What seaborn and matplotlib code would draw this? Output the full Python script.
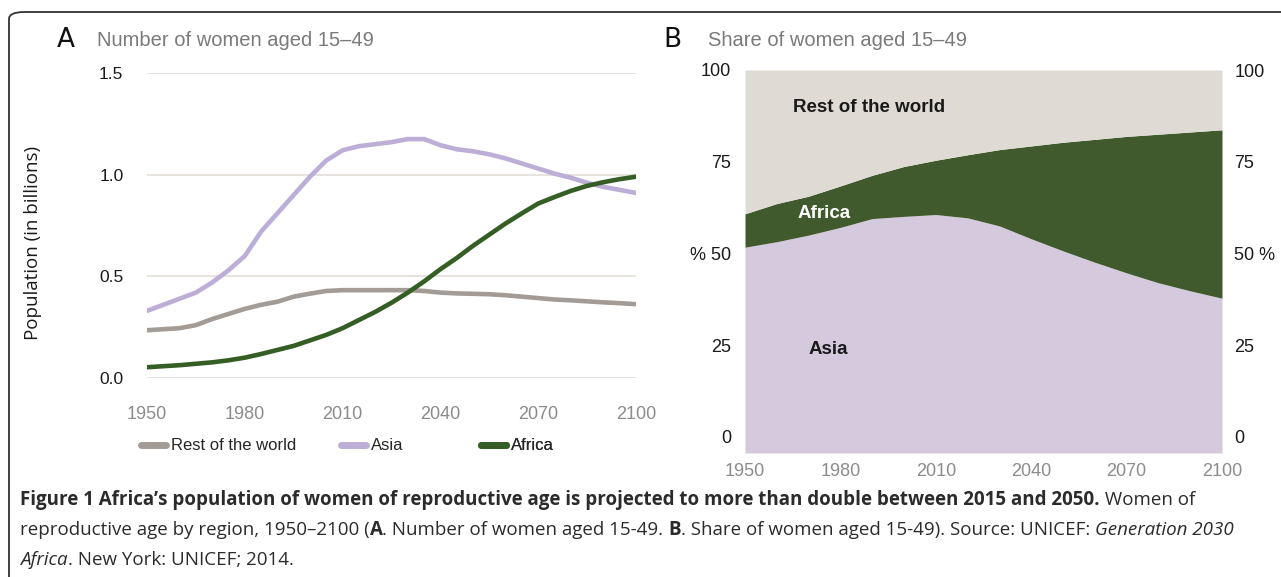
import pandas as pd
import matplotlib.pyplot as plt
import seaborn as sns
from matplotlib.patches import FancyBboxPatch
from matplotlib.lines import Line2D

# ---- data ----
years = list(range(1950, 2101, 5))
asia = [0.33, 0.36, 0.39, 0.42, 0.47, 0.53, 0.60, 0.72, 0.81, 0.90, 0.99, 1.07,
        1.12, 1.14, 1.15, 1.16, 1.175, 1.175, 1.145, 1.125, 1.115, 1.10, 1.08,
        1.055, 1.03, 1.005, 0.985, 0.96, 0.94, 0.925, 0.91]
rest = [0.235, 0.24, 0.245, 0.26, 0.29, 0.315, 0.34, 0.36, 0.375, 0.40, 0.415,
        0.428, 0.432, 0.432, 0.432, 0.432, 0.432, 0.428, 0.42, 0.416, 0.414,
        0.412, 0.407, 0.40, 0.393, 0.386, 0.382, 0.377, 0.372, 0.368, 0.363]
africa = [0.053, 0.058, 0.063, 0.07, 0.077, 0.087, 0.10, 0.118, 0.138, 0.158,
          0.185, 0.212, 0.245, 0.285, 0.325, 0.37, 0.42, 0.475, 0.535, 0.59,
          0.65, 0.705, 0.76, 0.81, 0.858, 0.89, 0.92, 0.945, 0.963, 0.978, 0.99]

share_years = list(range(1950, 2101, 10))
asia_share = [51.7, 53.2, 55.0, 57.1, 59.5, 60.1, 60.6, 59.7, 57.5, 54.0, 50.7,
              47.6, 44.7, 42.0, 39.8, 37.8]
africa_share = [9.1, 10.4, 10.6, 11.3, 11.8, 13.6, 14.8, 17.2, 20.8, 25.3, 29.6,
                33.5, 37.2, 40.5, 43.3, 45.9]
rest_share = [100 - a - b for a, b in zip(asia_share, africa_share)]

regions = ["Rest of the world", "Asia", "Africa"]
line_colors = {"Rest of the world": "#a39b96", "Asia": "#bcaed6", "Africa": "#355e25"}
fill_colors = {"Asia": "#d5c9dd", "Africa": "#405a2e", "Rest of the world": "#e0dad4"}

# ---- style ----
sns.set_style("white")
chart_font = ["Liberation Sans", "DejaVu Sans"]
plt.rcParams["font.family"] = chart_font

W, H = 1281, 577
fig = plt.figure(figsize=(W / 100, H / 100), dpi=100)


def fx(px):
    return px / W


def fy(py):
    return 1 - py / H


# outer rounded frame (open to the right and bottom)
frame = FancyBboxPatch((fx(9), fy(700)), fx(1300), fy(12) - fy(700),
                       boxstyle="round,pad=0,rounding_size=0.012",
                       transform=fig.transFigure, fill=False,
                       edgecolor="#333333", linewidth=1.3)
fig.patches.append(frame)

# ---- panel A ----
df = pd.DataFrame({
    "year": years * 3,
    "value": rest + asia + africa,
    "region": ["Rest of the world"] * len(years) + ["Asia"] * len(years)
              + ["Africa"] * len(years),
})
axA = fig.add_axes([fx(147), fy(378), fx(636) - fx(147), fy(73) - fy(378)])
sns.lineplot(data=df, x="year", y="value", hue="region", hue_order=regions,
             palette=line_colors, linewidth=3.3, ax=axA, legend=False)
axA.set_xlim(1950, 2100)
axA.set_ylim(0, 1.5)
axA.set_yticks([0, 0.5, 1.0, 1.5])
axA.set_yticklabels(["0.0", "0.5", "1.0", "1.5"])
axA.set_xticks(range(1950, 2101, 30))
axA.yaxis.grid(True, color="#e3ded9", linewidth=1.2)
axA.set_axisbelow(True)
for s in axA.spines.values():
    s.set_visible(False)
axA.tick_params(axis="y", labelsize=12.5, labelcolor="#1a1a1a", length=0, pad=17)
axA.tick_params(axis="x", labelsize=13, labelcolor="#8c8c8c", length=0, pad=20)
axA.set_xlabel("")
axA.set_ylabel("Population (in billions)", fontsize=13.5,
               family=["Open Sans", "DejaVu Sans"], color="#1a1a1a")
axA.yaxis.set_label_coords(fx(42), fy(243), transform=fig.transFigure)

# legend entries placed one by one below panel A
legend_x = [141, 341, 481]
for r, lx in zip(regions, legend_x):
    h = Line2D([], [], color=line_colors[r], linewidth=5, solid_capstyle="round")
    lg = axA.legend([h], [r], loc="center left", bbox_to_anchor=(fx(lx), fy(446)),
                    bbox_transform=fig.transFigure, frameon=False, fontsize=12,
                    handlelength=1.5, handletextpad=0.3, borderpad=0, borderaxespad=0)
    axA.add_artist(lg)

fig.text(fx(57), fy(40), "A", fontsize=19, family="DejaVu Sans", color="#111111",
         va="center")
fig.text(fx(97), fy(40), "Number of women aged 15–49", fontsize=14.5,
         color="#7a7a7a", va="center")

# ---- panel B ----
y_bottom = -4.4
axB = fig.add_axes([fx(745), fy(453), fx(1222) - fx(745), fy(70) - fy(453)])
top_share = [a + b for a, b in zip(asia_share, africa_share)]
axB.fill_between(share_years, y_bottom, asia_share, color=fill_colors["Asia"],
                 linewidth=0)
axB.fill_between(share_years, asia_share, top_share, color=fill_colors["Africa"],
                 linewidth=0)
axB.fill_between(share_years, top_share, [t + r for t, r in zip(top_share, rest_share)],
                 color=fill_colors["Rest of the world"], linewidth=0)
axB.set_xlim(1950, 2100)
axB.set_ylim(y_bottom, 100)
axB.set_xticks(range(1950, 2101, 30))
axB.set_yticks([0, 25, 50, 75, 100])
axB.set_yticklabels(["0", "25", "% 50", "75", "100"])
for s in axB.spines.values():
    s.set_visible(False)
axB.tick_params(axis="y", labelsize=13, labelcolor="#1a1a1a", length=0, pad=10)
axB.tick_params(axis="x", labelsize=13, labelcolor="#8c8c8c", length=0, pad=7)
axB2 = axB.twinx()
axB2.set_ylim(y_bottom, 100)
axB2.set_yticks([0, 25, 50, 75, 100])
axB2.set_yticklabels(["0", "25", "50 %", "75", "100"])
for s in axB2.spines.values():
    s.set_visible(False)
axB2.tick_params(axis="y", labelsize=13, labelcolor="#1a1a1a", length=0, pad=9)

axB.text(1965, 89.8, "Rest of the world", fontsize=13.5, fontweight="bold",
         color="#1a1a1a", va="center")
axB.text(1966.5, 61, "Africa", fontsize=13.5, fontweight="bold", color="white",
         va="center")
axB.text(1970, 23.9, "Asia", fontsize=13.5, fontweight="bold", color="#1a1a1a",
         va="center")

fig.text(fx(663), fy(40), "B", fontsize=19, family="DejaVu Sans", color="#111111",
         va="center")
fig.text(fx(708), fy(40), "Share of women aged 15–49", fontsize=14.5,
         color="#7a7a7a", va="center")

# ---- caption ----
renderer = fig.canvas.get_renderer()


def caption_line(px, py, pieces):
    x = fx(px)
    for txt, weight, style in pieces:
        t = fig.text(x, fy(py), txt, fontsize=13.5, fontweight=weight,
                     fontstyle=style, color="#2b2b2b", va="center",
                     family=["Open Sans", "DejaVu Sans"])
        bb = t.get_window_extent(renderer=renderer)
        x = bb.x1 / fig.bbox.width


caption_line(20, 500, [
    ("Figure 1 Africa’s population of women of reproductive age is projected to "
     "more than double between 2015 and 2050.", "bold", "normal"),
    (" Women of", "normal", "normal"),
])
caption_line(20, 530, [
    ("reproductive age by region, 1950–2100 (", "normal", "normal"),
    ("A", "bold", "normal"),
    (". Number of women aged 15-49. ", "normal", "normal"),
    ("B", "bold", "normal"),
    (". Share of women aged 15-49). Source: UNICEF: ", "normal", "normal"),
    ("Generation 2030", "normal", "italic"),
])
caption_line(20, 560, [
    ("Africa", "normal", "italic"),
    (". New York: UNICEF; 2014.", "normal", "normal"),
])

fig.savefig("out.png", dpi=100)
